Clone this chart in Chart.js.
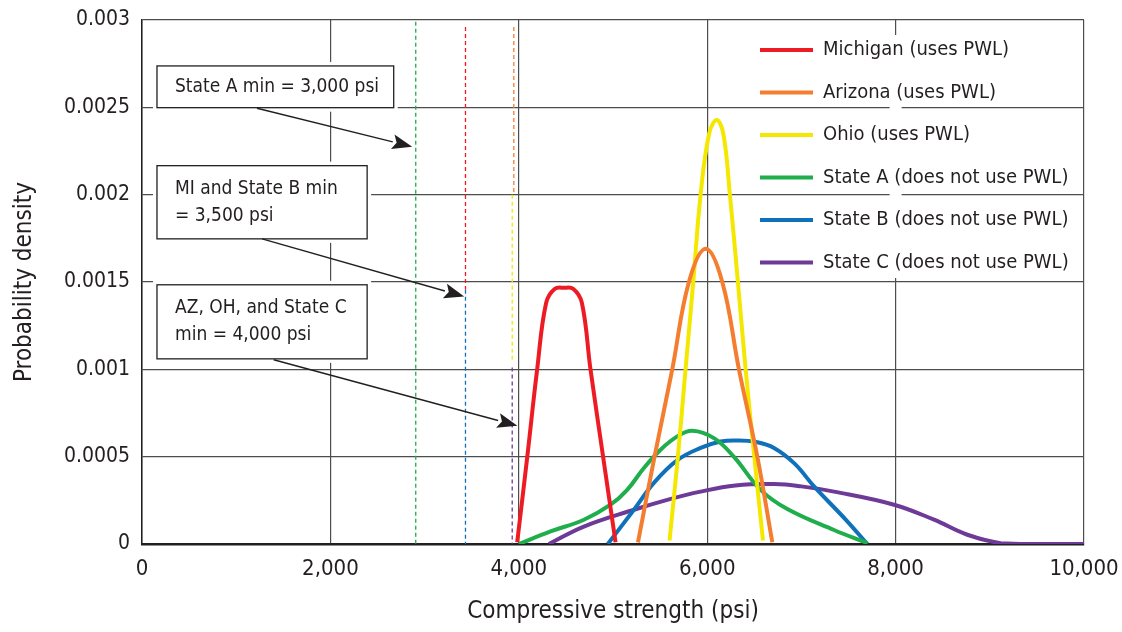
<!DOCTYPE html>
<html>
<head>
<meta charset="utf-8">
<script src="https://cdn.jsdelivr.net/npm/chart.js@4.4.1/dist/chart.umd.min.js"></script>
<style>
  html, body { margin: 0; padding: 0; background: #fff; }
  #wrap { width: 1122px; height: 632px; position: relative; }
</style>
</head>
<body>
<div id="wrap"><canvas id="chart"></canvas></div>
<script>
// --- Datos ---
const seriesNames = [
  'Michigan (uses PWL)', 'Arizona (uses PWL)', 'Ohio (uses PWL)',
  'State A (does not use PWL)', 'State B (does not use PWL)', 'State C (does not use PWL)'
];
const seriesColors = ['#ed1c24', '#f47d30', '#f4e800', '#1fae4b', '#1071bb', '#6d3a98'];

const michiganX = [3983, 4090, 4195, 4290, 4380, 4480, 4580, 4670, 4761, 4895, 5027];
const michiganY = [0.00001, 0.0005, 0.001, 0.00138, 0.00146, 0.001467, 0.00146, 0.00138, 0.001, 0.0005, 0.00001];

const arizonaX = [5265, 5441, 5629, 5806, 5985, 6160, 6337, 6532, 6691];
const arizonaY = [0.00001, 0.0005, 0.001, 0.0015, 0.00169, 0.0015, 0.001, 0.0005, 0.00001];

const ohioX = [5600, 5689, 5770, 5852, 5930, 6021, 6100, 6171, 6241, 6326, 6408, 6500, 6592];
const ohioY = [0.00002, 0.0005, 0.001, 0.0015, 0.002, 0.00235, 0.002427, 0.00235, 0.002, 0.0015, 0.001, 0.0005, 0.00002];

const stateAX = [4000, 4337, 4691, 4974, 5151, 5328, 5505, 5683, 5842, 6071, 6282, 6567, 6851, 7346, 7700];
const stateAY = [0, 0.000072, 0.000139, 0.000225, 0.00031, 0.000435, 0.00054, 0.000616, 0.000648, 0.000606, 0.0005, 0.00031, 0.0002, 0.00008, 0.000005];

const stateBX = [4945, 5222, 5434, 5683, 5930, 6142, 6320, 6509, 6709, 6928, 7134, 7470, 7700];
const stateBY = [0, 0.000196, 0.00035, 0.00048, 0.00055, 0.000587, 0.000593, 0.000585, 0.00055, 0.00046, 0.00033, 0.00014, 0];

const stateCX = [4319, 4691, 5222, 5576, 5930, 6300, 6709, 7000, 7346, 7983, 8408, 8762, 9116, 9500, 10000];
const stateCY = [0, 0.0001, 0.000196, 0.000253, 0.0003, 0.000335, 0.000343, 0.00033, 0.0003, 0.000225, 0.000139, 0.000053, 0.000005, 0, 0];

// Mínimos especificados (líneas discontinuas)
const minSeries = [3, 0, 4, 1, 2, 5];   // índice de la serie cuyo color usa
const minX = [2906, 3434, 3434, 3947, 3930, 3930];
const minTop = [0.00299, 0.00296, 0.001455, 0.00296, 0.002, 0.00101];
const minBottom = [0, 0.001455, 0, 0.002, 0.00105, 0];

const xTickLabels = ['0', '2,000', '4,000', '6,000', '8,000', '10,000'];
const yTickLabels = ['0', '0.0005', '0.001', '0.0015', '0.002', '0.0025', '0.003'];

const noteTexts = [
  ['State A min = 3,000 psi'],
  ['MI and State B min', '= 3,500 psi'],
  ['AZ, OH, and State C', 'min = 4,000 psi']
];

const FONT = "'DejaVu Sans Condensed', 'Liberation Sans Narrow', sans-serif";
const TEXT = '#231f20';

// --- Construcción de datasets ---
const xs = [michiganX, arizonaX, ohioX, stateAX, stateBX, stateCX];
const ys = [michiganY, arizonaY, ohioY, stateAY, stateBY, stateCY];

const datasets = seriesNames.map((name, i) => ({
  label: name,
  data: xs[i].map((x, j) => ({ x: x, y: ys[i][j] })),
  borderColor: seriesColors[i],
  borderWidth: 4,
  pointRadius: 0,
  fill: false,
  tension: 0.4,
  order: 1
}));

minX.forEach((x, i) => {
  datasets.push({
    label: 'min',
    data: [{ x: x, y: minTop[i] }, { x: x, y: minBottom[i] }],
    borderColor: seriesColors[minSeries[i]],
    borderWidth: 1.3,
    borderDash: [4, 3],
    pointRadius: 0,
    fill: false,
    order: 2
  });
});

// --- Cuadros de texto y flechas (en unidades de datos) ---
const notes = [
  { box: [159, 2672, 0.002737, 0.002498], from: [1221, 0.002495], to: [2868, 0.002275] },
  { box: [159, 2390, 0.002166, 0.001747], from: [1275, 0.001747], to: [3420, 0.001417] },
  { box: [159, 2390, 0.001484, 0.00106], from: [1398, 0.001055], to: [3985, 0.000677] }
];

const notesPlugin = {
  id: 'notes',
  beforeDatasetsDraw(chart) {
    const { ctx, scales: { x, y }, chartArea } = chart;
    ctx.save();
    ctx.fillStyle = '#fff';
    // la leyenda tapa la línea vertical de 8,000
    const gx = x.getPixelForValue(8000);
    ctx.fillRect(gx - 6, chartArea.top + 15, 12, 243);
    // cuadros blancos con margen
    notes.forEach(n => {
      const l = x.getPixelForValue(n.box[0]), r = x.getPixelForValue(n.box[1]);
      const t = y.getPixelForValue(n.box[2]), b = y.getPixelForValue(n.box[3]);
      ctx.fillRect(l - 4, t - 4, r - l + 8, b - t + 8);
    });
    ctx.restore();
  },
  afterDraw(chart) {
    const { ctx, scales: { x, y }, chartArea } = chart;
    ctx.save();
    notes.forEach((n, i) => {
      const l = x.getPixelForValue(n.box[0]), r = x.getPixelForValue(n.box[1]);
      const t = y.getPixelForValue(n.box[2]), b = y.getPixelForValue(n.box[3]);
      ctx.fillStyle = '#fff';
      ctx.fillRect(l, t, r - l, b - t);
      ctx.strokeStyle = '#231f20';
      ctx.lineWidth = 1.3;
      ctx.strokeRect(l, t, r - l, b - t);
      ctx.fillStyle = TEXT;
      ctx.font = '19px ' + FONT;
      ctx.textBaseline = 'middle';
      ctx.textAlign = 'left';
      const lines = noteTexts[i];
      const mid = (t + b) / 2;
      lines.forEach((s, k) => {
        ctx.fillText(s, l + 18, mid + (k - (lines.length - 1) / 2) * 27);
      });
      // flecha
      const x0 = x.getPixelForValue(n.from[0]), y0 = y.getPixelForValue(n.from[1]);
      const x1 = x.getPixelForValue(n.to[0]), y1 = y.getPixelForValue(n.to[1]);
      const ang = Math.atan2(y1 - y0, x1 - x0);
      const hl = 20, hw = 7.5;
      ctx.strokeStyle = '#231f20';
      ctx.beginPath();
      ctx.moveTo(x0, y0);
      ctx.lineTo(x1 - Math.cos(ang) * hl, y1 - Math.sin(ang) * hl);
      ctx.lineWidth = 1.4;
      ctx.stroke();
      ctx.beginPath();
      ctx.moveTo(x1, y1);
      ctx.lineTo(x1 - Math.cos(ang) * hl - Math.sin(ang) * hw, y1 - Math.sin(ang) * hl + Math.cos(ang) * hw);
      ctx.lineTo(x1 - Math.cos(ang) * hl * 0.8, y1 - Math.sin(ang) * hl * 0.8);
      ctx.lineTo(x1 - Math.cos(ang) * hl + Math.sin(ang) * hw, y1 - Math.sin(ang) * hl - Math.cos(ang) * hw);
      ctx.closePath();
      ctx.fillStyle = '#231f20';
      ctx.fill();
    });

    // leyenda
    const lx = chartArea.right - 324;
    ctx.font = '20px ' + FONT;
    ctx.textBaseline = 'middle';
    seriesNames.forEach((name, i) => {
      const ly = chartArea.top + 30 + i * 42.5;
      ctx.strokeStyle = seriesColors[i];
      ctx.lineWidth = 4;
      ctx.beginPath();
      ctx.moveTo(lx, ly);
      ctx.lineTo(lx + 53, ly);
      ctx.stroke();
      ctx.fillStyle = TEXT;
      ctx.fillText(name, lx + 63, ly);
    });
    ctx.restore();
  }
};

new Chart(document.getElementById('chart'), {
  type: 'line',
  data: { datasets: datasets },
  plugins: [notesPlugin],
  options: {
    responsive: true,
    maintainAspectRatio: false,
    animation: false,
    layout: { padding: { top: 20, right: 38, left: 0, bottom: 0 } },
    plugins: {
      legend: { display: false },
      tooltip: { enabled: false }
    },
    scales: {
      x: {
        type: 'linear',
        min: 0,
        max: 10000,
        afterFit: s => { s.height = 88; s.paddingLeft = 0; s.paddingRight = 0; },
        ticks: {
          stepSize: 2000,
          padding: 12,
          color: TEXT,
          font: { family: FONT, size: 22 },
          callback: (v, i) => xTickLabels[i]
        },
        grid: { color: '#4d4d4d', lineWidth: 1.2, drawTicks: false },
        border: { color: '#231f20', width: 2.5 },
        title: {
          display: true,
          text: 'Compressive strength (psi)',
          color: TEXT,
          font: { family: FONT, size: 24 },
          padding: { top: 0, bottom: 6 }
        }
      },
      y: {
        min: 0,
        max: 0.003,
        afterFit: s => { s.width = 142; s.paddingTop = 0; s.paddingBottom = 0; },
        ticks: {
          stepSize: 0.0005,
          padding: 12,
          color: TEXT,
          font: { family: FONT, size: 21 },
          callback: (v, i) => yTickLabels[i]
        },
        grid: { color: '#4d4d4d', lineWidth: 1.2, drawTicks: false },
        border: { color: '#231f20', width: 1.5 },
        title: {
          display: true,
          text: 'Probability density',
          color: TEXT,
          font: { family: FONT, size: 24 },
          padding: { top: 10, bottom: 0 }
        }
      }
    }
  }
});
</script>
</body>
</html>
